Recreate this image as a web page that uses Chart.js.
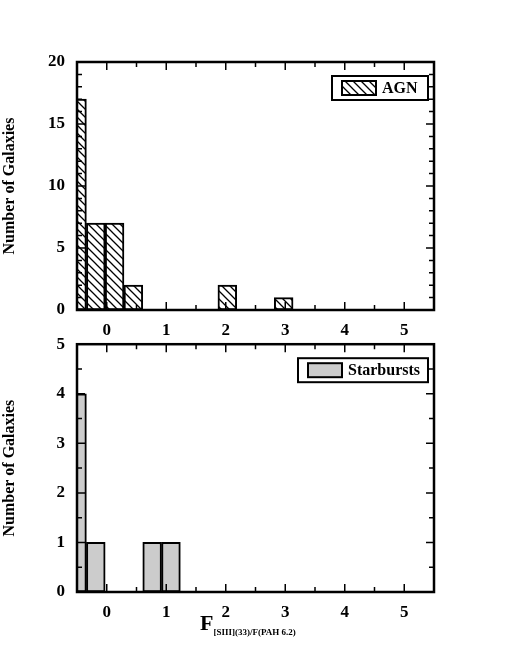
<!DOCTYPE html>
<html><head><meta charset="utf-8">
<script src="https://cdn.jsdelivr.net/npm/chart.js@4/dist/chart.umd.min.js"></script>
<style>
body{margin:0;background:#fff;width:508px;height:667px;position:relative;overflow:hidden;font-family:"Liberation Serif",serif}
canvas{position:absolute;left:0}
#xl{position:absolute;left:200px;top:610px;font-weight:bold;font-size:22px}
#xl sub{font-size:9px}
</style></head><body>
<canvas id="top" width="508" height="340" style="top:0"></canvas>
<canvas id="bot" width="508" height="337" style="top:330px"></canvas>
<div id="xl">F<sub>[SIII](33)/F(PAH 6.2)</sub></div>
<script>
// bins of width 0.25 from 0 to 5
const bins = Array.from({length: 20}, (_, i) => (i * 0.25).toFixed(2));
const agnCounts = [17, 7, 7, 2, 0, 0, 0, 0, 2, 0, 0, 1, 0, 0, 0, 0, 0, 0, 0, 0];
const sbCounts = [4, 1, 0, 0, 1, 1, 0, 0, 0, 0, 0, 0, 0, 0, 0, 0, 0, 0, 0, 0];
const xTicks = [0, 1, 2, 3, 4, 5];

function hatch() {
    const c = document.createElement('canvas');
    c.width = 8; c.height = 8;
    const g = c.getContext('2d');
    g.fillStyle = '#fff'; g.fillRect(0, 0, 8, 8);
    g.strokeStyle = '#000'; g.lineWidth = 1.3;
    g.beginPath();
    g.moveTo(0, 0); g.lineTo(8, 8);
    g.moveTo(-4, 4); g.lineTo(4, 12);
    g.moveTo(4, -4); g.lineTo(12, 4);
    g.stroke();
    return g.createPattern(c, 'repeat');
}

const font = {family: 'Liberation Serif', weight: 'bold', size: 17};

// inward ticks, frame and legend box
const decor = {
    id: 'decor',
    afterDraw(chart, args, o) {
        const {ctx, chartArea: a, scales} = chart;
        ctx.save();
        ctx.strokeStyle = '#000';
        ctx.lineWidth = 2.5;
        ctx.strokeRect(a.left, a.top, a.right - a.left, a.bottom - a.top);
        ctx.lineWidth = 1.5;
        for (let v = 0; v <= 5; v += 0.5) {
            const x = scales.xv.getPixelForValue(v);
            const len = v % 1 === 0 ? 8 : 5;
            ctx.beginPath();
            ctx.moveTo(x, a.bottom); ctx.lineTo(x, a.bottom - len);
            ctx.moveTo(x, a.top); ctx.lineTo(x, a.top + len);
            ctx.stroke();
        }
        for (let v = 0; v <= o.ymax; v += o.minor) {
            const y = scales.y.getPixelForValue(v);
            const len = Math.abs(v % o.major) < 1e-6 ? 8 : 5;
            ctx.beginPath();
            ctx.moveTo(a.left, y); ctx.lineTo(a.left + len, y);
            ctx.moveTo(a.right, y); ctx.lineTo(a.right - len, y);
            ctx.stroke();
        }
        // legend
        const bx = a.right - o.boxW - 6, by = a.top + 14;
        ctx.lineWidth = 2;
        ctx.strokeRect(bx, by, o.boxW, 24);
        ctx.fillStyle = o.fill;
        ctx.fillRect(bx + 10, by + 5, 34, 14);
        ctx.strokeRect(bx + 10, by + 5, 34, 14);
        ctx.fillStyle = '#000';
        ctx.font = 'bold 16px "Liberation Serif"';
        ctx.textBaseline = 'middle';
        ctx.fillText(o.label, bx + 50, by + 13);
        ctx.restore();
    }
};

function makeChart(id, counts, fill, label, ymax, major, minor, padTop, padBottom, boxW) {
    return new Chart(document.getElementById(id), {
        type: 'bar',
        data: {
            labels: bins,
            datasets: [{data: counts, backgroundColor: fill, borderColor: '#000', borderWidth: 2, borderSkipped: false,
                barPercentage: 1, categoryPercentage: 1}]
        },
        options: {
            responsive: false, animation: false,
            layout: {padding: {left: 0, right: 74, top: padTop, bottom: padBottom}},
            plugins: {legend: {display: false}, tooltip: {enabled: false},
                decor: {ymax, major, minor, fill, label, boxW}},
            scales: {
                x: {display: false, offset: false},
                xv: {type: 'linear', position: 'bottom', min: 0, max: 5,
                    afterBuildTicks: s => { s.ticks = xTicks.map(v => ({value: v})); },
                    afterFit: s => { s.height = 30; },
                    grid: {display: false}, border: {display: false},
                    ticks: {color: '#000', font, padding: 2}},
                y: {min: 0, max: ymax,
                    afterFit: s => { s.width = 77; },
                    grid: {display: false}, border: {display: false},
                    ticks: {stepSize: major, color: '#000', font, padding: 4},
                    title: {display: true, text: 'Number of Galaxies', color: '#000',
                        font: {family: 'Liberation Serif', weight: 'bold', size: 16}, padding: 0}}
            }
        },
        plugins: [decor]
    });
}

makeChart('top', agnCounts, hatch(), 'AGN', 20, 5, 1, 62, 0, 96);
makeChart('bot', sbCounts, '#cccccc', 'Starbursts', 5, 1, 0.5, 13, 45, 130);
</script>
</body></html>
